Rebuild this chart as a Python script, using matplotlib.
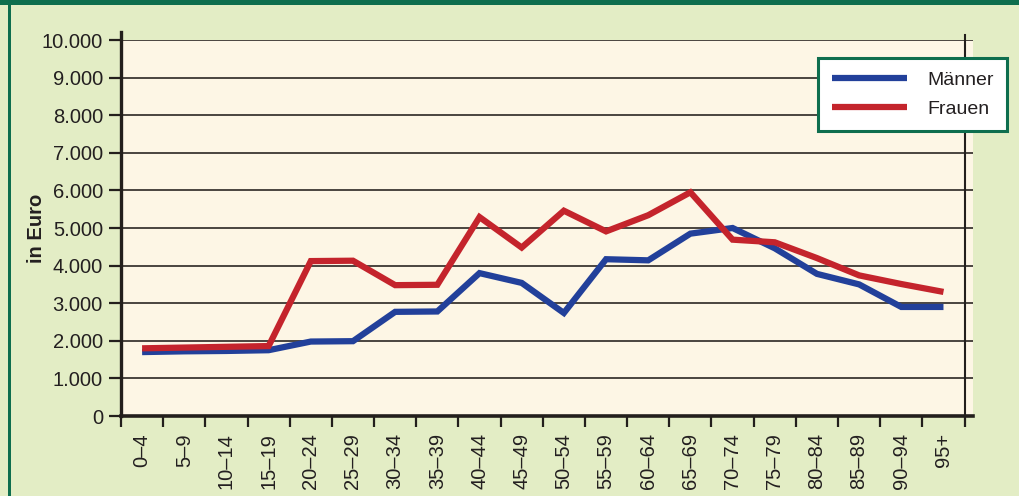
import matplotlib
matplotlib.use("Agg")
import matplotlib.pyplot as plt
from matplotlib.ticker import FuncFormatter, FixedLocator
from matplotlib.patches import Rectangle

plt.rcParams['font.family'] = ['Liberation Sans Narrow', 'Liberation Sans', 'DejaVu Sans']

categories = ["0–4", "5–9", "10–14", "15–19", "20–24", "25–29", "30–34", "35–39",
              "40–44", "45–49", "50–54", "55–59", "60–64", "65–69", "70–74", "75–79",
              "80–84", "85–89", "90–94", "95+"]
maenner = [1700, 1720, 1730, 1750, 1980, 1990, 2770, 2780, 3800, 3540, 2740, 4170,
           4140, 4850, 5000, 4460, 3780, 3500, 2900, 2900]
frauen = [1800, 1820, 1840, 1860, 4120, 4130, 3480, 3490, 5290, 4480, 5460, 4910,
          5340, 5950, 4690, 4620, 4200, 3740, 3510, 3300]
yticks = list(range(0, 10001, 1000))

BG = '#E3EDC5'
PLOT_BG = '#FDF6E5'
DARK = '#231F1C'
GRID = '#3C3732'
BLUE = '#22409A'
RED = '#C4242C'
GREEN = '#0E6E4E'

fig = plt.figure(figsize=(10.19, 4.96), dpi=100)
fig.patch.set_facecolor(BG)

W, H = 1019, 496
ax = fig.add_axes([121 / W, 1 - 416 / H, 852 / W, 376 / H])
ax.set_facecolor(PLOT_BG)

n = len(categories)
xs = [i + 0.5 for i in range(n)]

ax.set_xlim(0, n + 0.2)
ax.set_ylim(0, 10000)

for v in yticks[1:]:
    ax.axhline(v, color=GRID, lw=1.3, zorder=1)

ax.plot(xs, maenner, color=BLUE, lw=4.5, solid_joinstyle='miter', solid_capstyle='butt', zorder=3, label='Männer')
ax.plot(xs, frauen, color=RED, lw=4.5, solid_joinstyle='miter', solid_capstyle='butt', zorder=3, label='Frauen')

# right boundary line at the last category edge
ax.plot([n, n], [0, 1.014], color=DARK, lw=1.5, transform=ax.get_xaxis_transform(), clip_on=False, zorder=4)
# left axis extends a bit above
ax.plot([0, 0], [0, 1.02], color=DARK, lw=2.4, transform=ax.get_xaxis_transform(), clip_on=False, zorder=4)

for s in ['top', 'right', 'left']:
    ax.spines[s].set_visible(False)
ax.spines['bottom'].set_linewidth(2.6)
ax.spines['bottom'].set_color(DARK)
ax.spines['bottom'].set_zorder(5)

ax.yaxis.set_major_locator(FixedLocator(yticks))
ax.yaxis.set_major_formatter(FuncFormatter(lambda v, p: f"{int(v):,}".replace(',', '.')))
ax.tick_params(axis='y', length=9, width=1.6, color=DARK, labelsize=14.5, labelcolor='#231F20', pad=4)

ax.xaxis.set_major_locator(FixedLocator(list(range(n + 1))))
ax.set_xticklabels([''] * (n + 1))
ax.tick_params(axis='x', length=8, width=1.6, color=DARK, labelsize=14)
for i, lab in enumerate(categories):
    ax.text(xs[i], -0.045, lab, transform=ax.get_xaxis_transform(), rotation=90,
            ha='center', va='top', fontsize=14.5, color='#231F20')

ax.set_ylabel('in Euro', fontsize=14.5, fontweight='bold', color='#231F20')
ax.yaxis.set_label_coords((46 - 121) / 852, 0.5)

leg = ax.legend(loc='upper left', bbox_to_anchor=(818 / W, 1 - 58 / H),
                bbox_transform=fig.transFigure, borderaxespad=0, frameon=True,
                fancybox=False, fontsize=14, handlelength=3.9, handletextpad=1.0,
                labelspacing=0.55, borderpad=0.7)
leg.get_frame().set_edgecolor(GREEN)
leg.get_frame().set_linewidth(2.2)
leg.get_frame().set_facecolor('white')
leg.get_frame().set_alpha(1)
leg.set_zorder(10)
for t in leg.get_texts():
    t.set_color('#231F20')

# decorative frame: top band and left line
fig.patches.append(Rectangle((0, 1 - 5 / H), 1, 5 / H, transform=fig.transFigure,
                             facecolor=GREEN, edgecolor='none', zorder=0))
fig.patches.append(Rectangle((8 / W, 0), 3 / W, 1, transform=fig.transFigure,
                             facecolor=GREEN, edgecolor='none', zorder=0))

fig.savefig('out.png', dpi=100, facecolor=BG)
